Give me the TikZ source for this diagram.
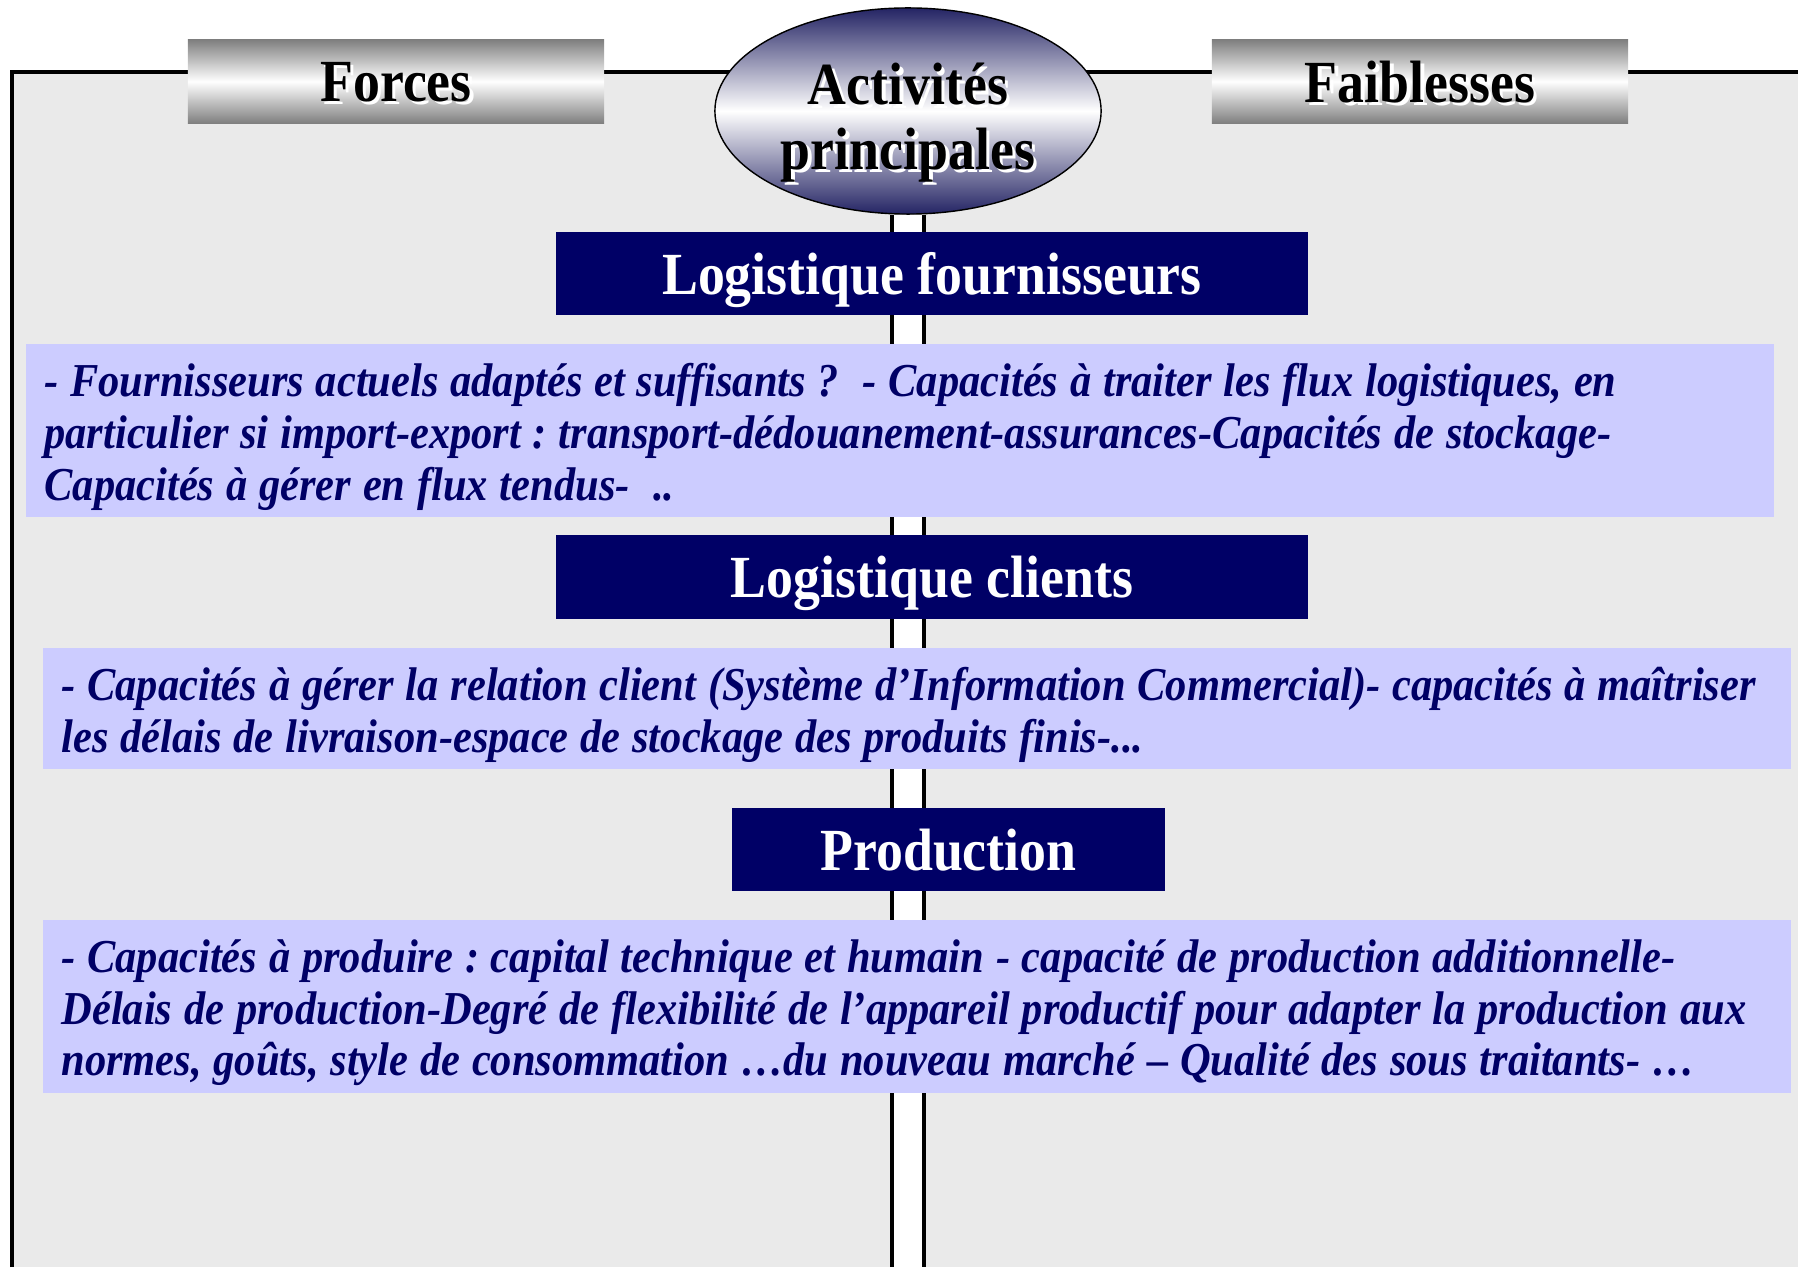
\documentclass[tikz,border=0pt]{standalone}
\usepackage{fontspec}
\setmainfont{Liberation Serif}[FakeStretch=0.9]
\usepackage{xcolor}
\usepackage{tikz}
\usetikzlibrary{shapes.geometric, positioning}
\pgfdeclarelayer{background}
\pgfsetlayers{background,main}
\definecolor{navybox}{RGB}{0, 0, 102}
\definecolor{lavender}{RGB}{204, 204, 255}
\definecolor{panelgray}{RGB}{234, 234, 234}
\definecolor{shadegray}{RGB}{128, 128, 128}
\definecolor{ovalnavy}{RGB}{36, 36, 100}
\newcommand{\embossed}[1]{\rlap{\hspace{1pt}\raisebox{-1pt}{\color{white}#1}}#1}
\newcommand{\detailfont}{\fontsize{13.42}{14.7}\selectfont\bfseries\itshape\frenchspacing}

\begin{document}
\begin{tikzpicture}[
    x=0.01cm, y=-0.01cm,
    heading/.style={rectangle, top color=shadegray, bottom color=shadegray, middle color=white, minimum width=4.16cm, minimum height=0.83cm, inner sep=0pt, text depth=0pt, font=\fontsize{17}{19}\selectfont\bfseries},
    activity/.style={ellipse, draw=black, thin, top color=ovalnavy, bottom color=ovalnavy, middle color=white, minimum width=3.86cm, minimum height=2.06cm, inner sep=0pt, align=center, text height=33pt, text depth=0pt, font=\fontsize{17}{18.3}\selectfont\bfseries},
    stage/.style={rectangle, fill=navybox, text=white, minimum height=0.83cm, inner sep=0pt, text depth=0pt, font=\fontsize{17}{19}\selectfont\bfseries},
    detail/.style={rectangle, fill=lavender, text=navybox, inner xsep=0.18cm, inner ysep=0pt, text width=17.1cm, text height=13pt, align=left, font=\detailfont, execute at begin node={\spaceskip=0.25em plus 0.1em\xspaceskip=0.25em plus 0.1em\relax}},
    frameline/.style={line width=0.9pt, black}
]
    \useasboundingbox (0,0) rectangle (1798,1267);

    % en-tetes
    \node[heading] (forces) at (396,81.5) {\embossed{Forces}};
    \node[heading] (faiblesses) at (1420,81.5) {\embossed{Faiblesses}};
    \node[activity] (activites) at (908,111) {\embossed{Activités}\\\embossed{principales}};

    % activites
    \node[stage, minimum width=7.52cm] (logfour) at (932,273.5) {Logistique fournisseurs};
    \node[detail, minimum height=1.73cm] (txtfour) at (900,430.5) {- Fournisseurs actuels adaptés et suffisants ? ~- Capacités à traiter les flux logistiques, en\\particulier si import-export : transport-dédouanement-assurances-Capacités de stockage-\\Capacités à gérer en flux tendus- ~..};

    \node[stage, minimum width=7.52cm] (logcli) at (932,577) {Logistique clients};
    \node[detail, minimum height=1.21cm] (txtcli) at (917,708.5) {- Capacités à gérer la relation client (Système d’Information Commercial)- capacités à maîtriser\\les délais de livraison-espace de stockage des produits finis-...};

    \node[stage, minimum width=4.33cm] (prod) at (948.5,849.5) {Production};
    \node[detail, minimum height=1.73cm] (txtprod) at (917,1006.5) {- Capacités à produire : capital technique et humain - capacité de production additionnelle-\\Délais de production-Degré de flexibilité de l’appareil productif pour adapter la production aux\\normes, goûts, style de consommation …du nouveau marché – Qualité des sous traitants- …};

    % cadre et axe central
    \begin{pgfonlayer}{background}
        \fill[panelgray] (12,72) rectangle (1798,1267);
        \draw[frameline] (12,1267) -- (12,72) -- (1798,72);
        \coordinate (axisend) at (activites.south |- 0,1267);
        \fill[white] ([xshift=-0.16cm]activites.south) rectangle ([xshift=0.16cm]axisend);
        \draw[frameline] ([xshift=-0.16cm]activites.south) -- ([xshift=-0.16cm]axisend);
        \draw[frameline] ([xshift=0.16cm]activites.south) -- ([xshift=0.16cm]axisend);
    \end{pgfonlayer}
\end{tikzpicture}
\end{document}
